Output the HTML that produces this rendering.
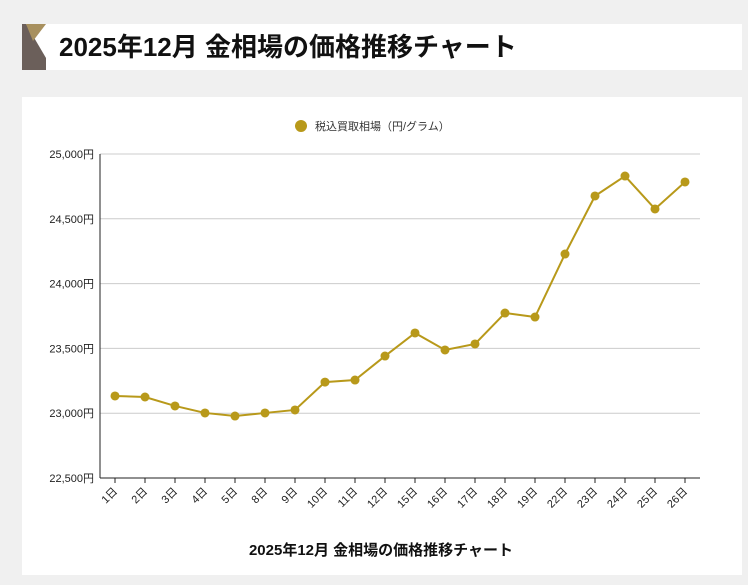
<!DOCTYPE html>
<html><head><meta charset="utf-8"><style>
body{margin:0;background:#f0f0f0;width:748px;height:585px;overflow:hidden;font-family:"Liberation Sans","Noto Sans CJK JP",sans-serif;}
#hdr{position:absolute;left:22px;top:24px;width:720px;height:46px;background:#fff;}
#card{position:absolute;left:22px;top:97px;width:720px;height:478px;background:#fff;}
svg text{font-family:"Liberation Sans","Noto Sans CJK JP",sans-serif;}
</style></head><body>
<div id="hdr">
<svg width="720" height="46" style="position:absolute;left:0;top:0">
<polygon points="0,0 4,0 24,34 24,46 0,46" fill="#6b5f5a"/>
<polygon points="4,0 24,0 11,17" fill="#a8905e"/>
<text x="37" y="32" font-size="26" font-weight="bold" fill="#111">2025年12月 金相場の価格推移チャート</text>
</svg></div>
<div id="card"></div>
<svg id="chart" width="748" height="585" style="position:absolute;left:0;top:0"></svg>
<script>
const categories=["1日","2日","3日","4日","5日","8日","9日","10日","11日","12日","15日","16日","17日","18日","19日","22日","23日","24日","25日","26日"];
const prices=[23133,23125,23056,23002,22978,23002,23025,23240,23256,23441,23619,23488,23534,23773,23742,24228,24676,24830,24576,24784];
const yTicks=[22500,23000,23500,24000,24500,25000];
const yTickLabels=["22,500円","23,000円","23,500円","24,000円","24,500円","25,000円"];
const svg=document.getElementById('chart');
const NS='http://www.w3.org/2000/svg';
const L=100,R=700,T=154,B=478,yMin=22500,yMax=25000;
const x=i=>L+(R-L)/categories.length*(i+0.5);
const y=v=>B-(v-yMin)/(yMax-yMin)*(B-T);
function mk(tag,attrs,parent){const e=document.createElementNS(NS,tag);for(const k in attrs)e.setAttribute(k,attrs[k]);(parent||svg).appendChild(e);return e;}
yTicks.forEach((t,i)=>{
 const g=mk('line',{x1:L,x2:R,y1:y(t),y2:y(t),stroke:i===0?'#222':'#ccc','stroke-width':1});
 
 
 const tx=mk('text',{x:L-6,y:y(t)+4,'font-size':11,'text-anchor':'end',fill:'#222'});
 tx.textContent=yTickLabels[i];
 
 
});
const ax=mk('line',{x1:L,x2:L,y1:T,y2:B,stroke:'#222'});


categories.forEach((c,i)=>{
 const tk=mk('line',{x1:x(i),x2:x(i),y1:B,y2:B+5,stroke:'#222'});
 
 
 const tx=mk('text',{x:x(i)+3,y:B+14,'font-size':11,'text-anchor':'end',fill:'#222',transform:`rotate(-45 ${x(i)+3} ${B+14})`});
 tx.textContent=c;
 
 
});
const line=mk('polyline',{points:prices.map((v,i)=>x(i)+','+y(v)).join(' '),fill:'none',stroke:'#b8991a','stroke-width':2});


prices.forEach((v,i)=>{
 const p=mk('circle',{cx:x(i),cy:y(v),r:4.5,fill:'#b8991a'});
 
 
});
const lc=mk('circle',{cx:301,cy:126,r:6,fill:'#b8991a'});


const lt=mk('text',{x:315,y:130,'font-size':11,fill:'#333'});
lt.textContent='税込買取相場（円/グラム）';


const xt=mk('text',{x:381,y:555,'font-size':15,'font-weight':'bold','text-anchor':'middle',fill:'#111'});
xt.textContent='2025年12月 金相場の価格推移チャート';


</script>
</body></html>
